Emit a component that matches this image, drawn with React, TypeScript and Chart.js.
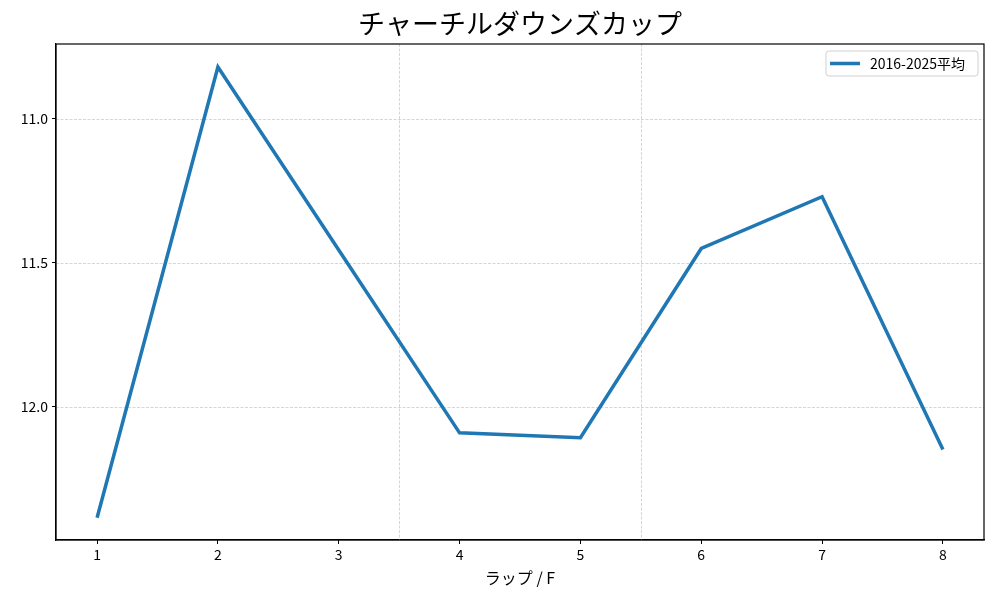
import React, { useEffect, useRef } from "react";
import { Chart, registerables } from "chart.js";

Chart.register(...registerables);

const chartTitle = "チャーチルダウンズカップ";
const xAxisTitle = "ラップ / F";
const seriesLabel = "2016-2025平均";
const laps = [1, 2, 3, 4, 5, 6, 7, 8];
const lapTimes = [12.385, 10.82, 11.455, 12.09, 12.107, 11.45, 11.27, 12.148];
const yTicks = [11.0, 11.5, 12.0];
const sectionLines = [3.5, 5.5];
const FONT = "'Noto Sans CJK JP', 'DejaVu Sans', sans-serif";

const decorPlugin = {
  id: "decor",
  beforeDatasetsDraw(chart: any) {
    const { ctx, chartArea: a, scales } = chart;
    ctx.save();
    ctx.strokeStyle = "#c4c4c4";
    ctx.lineWidth = 0.7;
    ctx.setLineDash([3, 1.5]);
    for (const v of yTicks) {
      const y = Math.round(scales.y.getPixelForValue(v)) + 0.5;
      ctx.beginPath();
      ctx.moveTo(a.left, y);
      ctx.lineTo(a.right, y);
      ctx.stroke();
    }
    for (const v of sectionLines) {
      const x = Math.round(scales.x.getPixelForValue(v)) + 0.5;
      ctx.beginPath();
      ctx.moveTo(x, a.top);
      ctx.lineTo(x, a.bottom);
      ctx.stroke();
    }
    ctx.restore();
  },
  afterDraw(chart: any) {
    const { ctx, chartArea: a } = chart;
    ctx.save();
    // frame
    ctx.strokeStyle = "#000";
    ctx.lineWidth = 1.2;
    ctx.setLineDash([]);
    ctx.strokeRect(a.left, a.top, a.right - a.left, a.bottom - a.top);
    // title
    ctx.fillStyle = "#000";
    ctx.font = `27px ${FONT}`;
    ctx.textAlign = "center";
    ctx.textBaseline = "middle";
    ctx.fillText(chartTitle, (a.left + a.right) / 2, 24);
    // legend
    const ds = chart.data.datasets[0];
    ctx.font = `14px ${FONT}`;
    const tw = ctx.measureText(ds.label).width;
    const bw = 10 + 30 + 10 + tw + 7;
    const bh = 25;
    const bx = a.right - 6 - bw;
    const by = a.top + 7;
    ctx.beginPath();
    const r = 3;
    ctx.moveTo(bx + r, by);
    ctx.arcTo(bx + bw, by, bx + bw, by + bh, r);
    ctx.arcTo(bx + bw, by + bh, bx, by + bh, r);
    ctx.arcTo(bx, by + bh, bx, by, r);
    ctx.arcTo(bx, by, bx + bw, by, r);
    ctx.closePath();
    ctx.fillStyle = "rgba(255,255,255,0.8)";
    ctx.fill();
    ctx.strokeStyle = "#d0d0d0";
    ctx.lineWidth = 1;
    ctx.stroke();
    ctx.strokeStyle = ds.borderColor;
    ctx.lineWidth = 3.5;
    ctx.beginPath();
    ctx.moveTo(bx + 4, by + bh / 2);
    ctx.lineTo(bx + 34, by + bh / 2);
    ctx.stroke();
    ctx.fillStyle = "#000";
    ctx.textAlign = "left";
    ctx.textBaseline = "middle";
    ctx.fillText(ds.label, bx + 44, by + bh / 2 + 0.5);
    ctx.restore();
  },
};

export default function App() {
  const ref = useRef<HTMLCanvasElement>(null);
  useEffect(() => {
    const chart = new Chart(ref.current!, {
      type: "line",
      data: {
        labels: laps,
        datasets: [
          {
            label: seriesLabel,
            data: laps.map((x, i) => ({ x, y: lapTimes[i] })),
            borderColor: "#1f77b4",
            backgroundColor: "#1f77b4",
            borderWidth: 3.5,
            pointRadius: 0,
            tension: 0,
          },
        ],
      },
      options: {
        animation: false,
        responsive: false,
        layout: { padding: { top: 44, right: 16, left: 0, bottom: 0 } },
        plugins: {
          legend: { display: false },
          title: { display: false },
          tooltip: { enabled: false },
        },
        scales: {
          x: {
            type: "linear",
            min: 0.66,
            max: 8.34,
            afterBuildTicks: (s: any) => {
              s.ticks = laps.map((v) => ({ value: v }));
            },
            afterFit: (s: any) => {
              s.height = 60;
            },
            grid: { drawOnChartArea: false, color: "#000", tickLength: 4, lineWidth: 1 },
            border: { display: true, color: "#000", width: 1.2 },
            ticks: {
              color: "#000",
              font: { family: FONT, size: 14 },
              padding: 2,
              maxRotation: 0,
              callback: (v: any) => String(v),
            },
            title: {
              display: true,
              text: xAxisTitle,
              color: "#000",
              font: { family: FONT, size: 16 },
              padding: { top: 0, bottom: 12 },
            },
          },
          y: {
            type: "linear",
            reverse: true,
            min: 10.74,
            max: 12.462,
            afterBuildTicks: (s: any) => {
              s.ticks = yTicks.map((v) => ({ value: v }));
            },
            afterFit: (s: any) => {
              s.width = 56;
            },
            grid: { drawOnChartArea: false, color: "#000", tickLength: 4, lineWidth: 1 },
            border: { display: true, color: "#000", width: 1.2 },
            ticks: {
              color: "#000",
              font: { family: FONT, size: 14 },
              padding: 4,
              callback: (v: any) => Number(v).toFixed(1),
            },
          },
        },
      },
      plugins: [decorPlugin],
    } as any);
    return () => chart.destroy();
  }, []);
  return (
    <div style={{ position: "absolute", left: 0, top: 0, width: 1000, height: 600, background: "#fff" }}>
      <canvas ref={ref} width={1000} height={600} style={{ width: 1000, height: 600 }} />
    </div>
  );
}
